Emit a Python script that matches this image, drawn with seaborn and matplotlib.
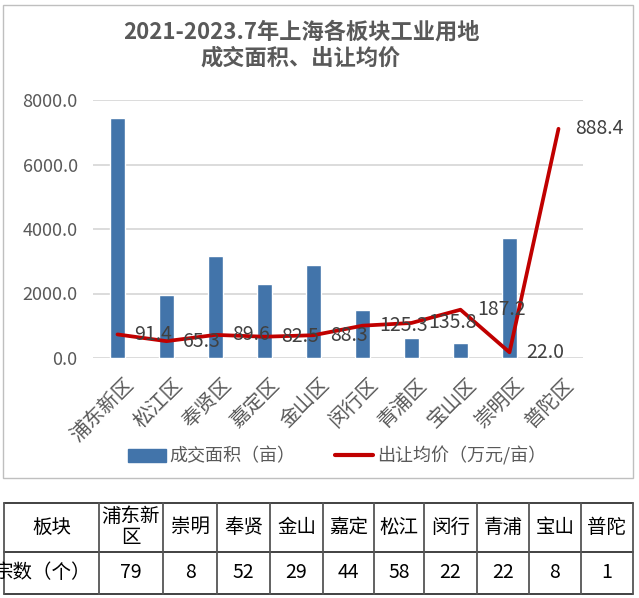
import numpy as np
import pandas as pd
import matplotlib
matplotlib.use('Agg')
import matplotlib.pyplot as plt
import seaborn as sns
from matplotlib.patches import Rectangle, Patch
from matplotlib.lines import Line2D
from matplotlib.transforms import ScaledTranslation

districts = ['浦东新区', '松江区', '奉贤区', '嘉定区', '金山区', '闵行区', '青浦区', '宝山区', '崇明区', '普陀区']
area = [7440, 1950, 3160, 2300, 2880, 1490, 620, 470, 3720, 0]
price = [91.4, 65.3, 89.6, 82.5, 88.3, 125.3, 135.8, 187.2, 22.0, 888.4]
table_header = ['板块', '浦东新\n区', '崇明', '奉贤', '金山', '嘉定', '松江', '闵行', '青浦', '宝山', '普陀']
table_counts = ['宗数（个）', '79', '8', '52', '29', '44', '58', '22', '22', '8', '1']
yticks = [0, 2000, 4000, 6000, 8000]
title1 = '2021-2023.7年上海各板块工业用地'
title2 = '成交面积、出让均价'
legend_labels = ['成交面积（亩）', '出让均价（万元/亩）']

sns.set_theme(style='white')
plt.rcParams['font.family'] = ['Noto Sans CJK SC', 'DejaVu Sans']

BLUE = '#4274AA'
RED = '#C00000'
GRAY = '#595959'

W, H = 639, 598
fig = plt.figure(figsize=(W / 100, H / 100), dpi=100)

bg = fig.add_axes([0, 0, 1, 1])
bg.set_xlim(0, W)
bg.set_ylim(H, 0)
bg.axis('off')
bg.add_patch(Rectangle((3, 5), 630, 473, fill=False, ec='#BFBFBF', lw=1))

ax = fig.add_axes([93 / W, 1 - 358 / H, 490 / W, 258 / H])
df = pd.DataFrame({'district': districts, 'area': area, 'price': price})
sns.barplot(data=df, x='district', y='area', color=BLUE, width=0.31,
            saturation=1, ax=ax)
ax.set_ylim(0, 8000)
ax.set_yticks(yticks)
ax.set_yticklabels([f'{t:.1f}' for t in yticks], fontsize=13, color=GRAY)
ax.yaxis.grid(True, color='#D9D9D9', lw=1.3)
ax.set_axisbelow(True)
for s in ax.spines.values():
    s.set_visible(False)
ax.tick_params(axis='y', length=0, pad=11)
ax.tick_params(axis='x', length=0, pad=12)
ax.set_xticks(range(len(districts)))
ax.set_xticklabels(districts, rotation=45, ha='right', rotation_mode='anchor',
                   fontsize=14.5, color=GRAY)
for lab in ax.get_xticklabels():
    lab.set_transform(lab.get_transform() + ScaledTranslation(4 / 72, 0, fig.dpi_scale_trans))
ax.set_xlabel('')
ax.set_ylabel('')

ax2 = ax.twinx()
sns.lineplot(data=df, x='district', y='price', sort=False, color=RED, lw=2.7, ax=ax2)
ax2.set_ylim(0, 1000)
ax2.set_yticks([])
ax2.set_ylabel('')
for s in ax2.spines.values():
    s.set_visible(False)
ax.set_xlim(-0.5, len(districts) - 0.5)
for d, v in zip(districts, price):
    ax2.annotate(f'{v:.1f}', (d, v), xytext=(12, 0), textcoords='offset points',
                 ha='left', va='center', fontsize=14, color='#404040')

fig.text(301 / W, 1 - 32 / H, title1, ha='center', va='center', fontsize=16,
         fontweight='bold', color=GRAY)
fig.text(301 / W, 1 - 58 / H, title2, ha='center', va='center', fontsize=16,
         fontweight='bold', color=GRAY)

handles = [Patch(color=BLUE), Line2D([0], [0], color=RED, lw=3)]
fig.legend(handles, legend_labels, loc='center', bbox_to_anchor=(337 / W, 1 - 456 / H),
           ncol=2, frameon=False, fontsize=13, labelcolor=GRAY, handlelength=2.1,
           handleheight=0.7, columnspacing=2.2, handletextpad=0.2)

# table
xs = [4, 99, 163, 217, 270, 323, 374, 424, 477, 529, 581, 633]
ys = [503, 552, 594]
for y in ys:
    bg.plot([xs[0], xs[-1]], [y, y], color='#333333', lw=1.3)
for x in xs:
    bg.plot([x, x], [ys[0], ys[-1]], color='#555555', lw=1.3)
for i in range(len(table_header)):
    cx = (xs[i] + xs[i + 1]) / 2
    bg.text(cx, (ys[0] + ys[1]) / 2, table_header[i], ha='center', va='center',
            fontsize=14, color='black', linespacing=1.0)
    if i == 0:
        t = bg.text(xs[1] - 8, (ys[1] + ys[2]) / 2, table_counts[i], ha='right',
                    va='center', fontsize=14, color='black')
        clip = Rectangle((xs[0], ys[1]), xs[1] - xs[0], ys[2] - ys[1],
                         transform=bg.transData, fill=False, lw=0)
        bg.add_patch(clip)
        t.set_clip_path(clip)
    else:
        bg.text(cx, (ys[1] + ys[2]) / 2, table_counts[i], ha='center', va='center',
                fontsize=14, color='black')

fig.savefig('out.png', dpi=100)
